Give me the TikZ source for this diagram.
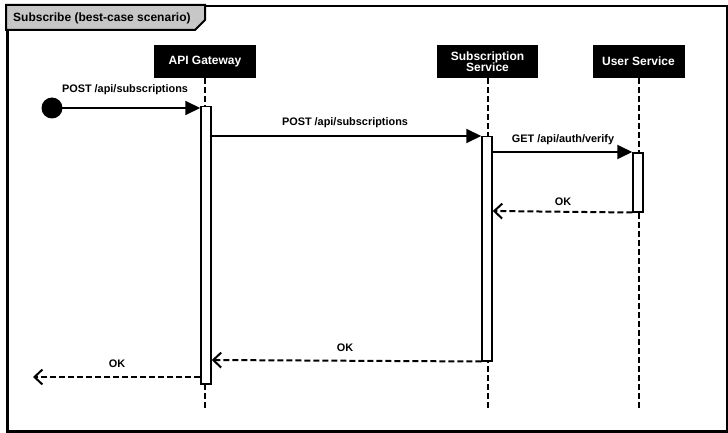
\documentclass[tikz,border=0pt]{standalone}
\usepackage{fontspec}
\setmainfont{Liberation Sans}
\usetikzlibrary{arrows.meta}
\begin{document}
\begin{tikzpicture}[x=1pt,y=-1pt,
  lbl/.style={font=\fontsize{10.9}{12}\selectfont\bfseries, inner sep=0pt},
  head/.style={fill=black, text=white, font=\fontsize{12}{12}\selectfont\bfseries, inner sep=0pt, align=center},
  life/.style={line width=2pt, dash pattern=on 6pt off 3pt},
  act/.style={draw=black, fill=white, line width=1.5pt},
  msg/.style={line width=2pt, -{Triangle[length=15pt,width=14pt]}},
  ret/.style={line width=2pt, dash pattern=on 6pt off 3pt, -{Straight Barb[length=8pt,width=15pt,line width=2pt]}}
]
\useasboundingbox (0,0) rectangle (728,433);
\fill[white] (0,0) rectangle (728,433);
% frame
\node[draw=black, line width=2.5pt, minimum width=720pt, minimum height=425pt, inner sep=0pt, anchor=north west] (frame) at (6,5) {};
\filldraw[fill=black!22, draw=black, line width=2pt] (6,5) -- (205,5) -- (205,20) -- (195,30) -- (6,30) -- cycle;
\node[lbl, anchor=west, font=\fontsize{12}{12}\selectfont\bfseries] (title) at (13,18) {Subscribe (best-case scenario)};
% heads
\node[head, minimum width=102pt, minimum height=33pt] (gw) at (205,61.5) {API Gateway};
\node[head, minimum width=101pt, minimum height=33pt] (ss) at (487.5,61.5) {Subscription\\[-1pt]Service};
\node[head, minimum width=92pt, minimum height=33pt] (us) at (638.5,61.5) {User Service};
\coordinate (gwE) at (205,411);
\coordinate (ssE) at (487.5,411);
\coordinate (usE) at (638.5,411);
\draw[life] (gw.south) -- (gwE);
\draw[life] (ss.south) -- (ssE);
\draw[life] (us.south) -- (usE);
% activations
\node[act, minimum width=10pt, minimum height=277pt, inner sep=0pt, anchor=north] (agw) at (206,106) {};
\node[act, minimum width=10pt, minimum height=224pt, inner sep=0pt, anchor=north] (ass) at (487,136) {};
\node[act, minimum width=10pt, minimum height=59pt, inner sep=0pt, anchor=north] (aus) at (638,152) {};
% start
\node[circle, fill=black, minimum size=21pt, inner sep=0pt] (start) at (52,108) {};
\draw[msg] (start.center) -- (agw.north west |- 0,108);
\node[lbl] (l1) at (125,90) {POST /api/subscriptions};
\draw[msg] (agw.east |- 0,136) -- (ass.north west);
\node[lbl] (l2) at (345,123) {POST /api/subscriptions};
\draw[msg] (ass.east |- 0,152) -- (aus.north west);
\node[lbl] (l3) at (563,140) {GET /api/auth/verify};
\draw[ret] (aus.south west) -- (ass.east |- 0,211);
\node[lbl] (l4) at (563,202) {OK};
\draw[ret] (ass.south west) -- (agw.east |- 0,360);
\node[lbl] (l5) at (345,348) {OK};
\coordinate (out) at (33,377);
\draw[ret] (agw.west |- 0,377) -- (out);
\node[lbl] (l6) at (117,364) {OK};
\end{tikzpicture}
\end{document}
